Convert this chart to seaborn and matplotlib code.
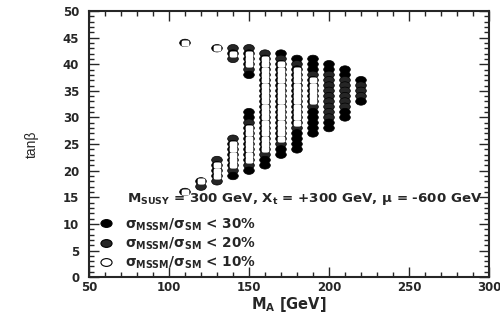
import numpy as np
import pandas as pd
import matplotlib
matplotlib.use("Agg")
import matplotlib.pyplot as plt
from matplotlib.path import Path
from matplotlib.transforms import Affine2D
from matplotlib.lines import Line2D
from matplotlib.ticker import MultipleLocator
import seaborn as sns

# ---- data: scan points (M_A, tan(beta) range) per category ----
# "< 10 %" (open ellipses)
open_ma  = [110, 110, 120, 130, 130, 140, 140, 150, 150, 160, 170, 180, 190]
open_lo  = [44,  16,  18,  43,  19,  42,  21,  40,  22,  24,  26,  29,  33]
open_hi  = [44,  16,  18,  43,  21,  42,  25,  42,  28,  41,  40,  39,  37]
# "< 20 %" (speckled ellipses)
mid_ma   = [120, 130, 130, 140, 140, 140, 140, 150, 150, 150, 150, 160, 160, 170, 170, 180, 180, 190, 190, 200, 210, 220]
mid_lo   = [17,  18,  22,  20,  26,  43,  41,  21,  29,  39,  43,  23,  42,  25,  41,  28,  40,  32,  38,  30,  32,  34]
mid_hi   = [17,  18,  22,  20,  26,  43,  41,  21,  29,  39,  43,  23,  42,  25,  41,  28,  40,  32,  38,  38,  37,  36]
# "< 30 %" (black ellipses)
full_ma  = [140, 150, 150, 150, 160, 170, 170, 180, 180, 190, 190, 200, 200, 210, 210, 220, 220]
full_lo  = [19,  20,  30,  38,  21,  23,  42,  24,  41,  27,  39,  28,  39,  30,  38,  33,  37]
full_hi  = [19,  20,  31,  38,  22,  24,  42,  27,  41,  31,  41,  29,  40,  31,  39,  33,  37]

categories = ["< 30%", "< 20%", "< 10%"]
x_ticks = [50, 100, 150, 200, 250, 300]
y_ticks = [0, 5, 10, 15, 20, 25, 30, 35, 40, 45, 50]


def expand(ma, lo, hi, cat):
    rows = []
    for m, a, b in zip(ma, lo, hi):
        for t in range(a, b + 1):
            rows.append((m, t, cat))
    return rows

rows = (expand(open_ma, open_lo, open_hi, categories[2])
        + expand(mid_ma, mid_lo, mid_hi, categories[1])
        + expand(full_ma, full_lo, full_hi, categories[0]))
df = pd.DataFrame(rows, columns=["MA", "tanb", "cat"])
df = df.sort_values(["MA", "tanb"], ascending=[True, False]).reset_index(drop=True)

# ---- style ----
sns.set_style("ticks")
plt.rcParams["font.family"] = ["DejaVu Sans"]
plt.rcParams["font.weight"] = "bold"
plt.rcParams["mathtext.fontset"] = "custom"
plt.rcParams["mathtext.rm"] = "DejaVu Sans:bold"
plt.rcParams["mathtext.it"] = "DejaVu Sans:bold"
plt.rcParams["mathtext.bf"] = "DejaVu Sans:bold"
plt.rcParams["mathtext.sf"] = "DejaVu Sans:bold"

circ = Path.unit_circle()
ellipse = Path(Affine2D().scale(1.0, 0.70).transform_path(circ).vertices, circ.codes)
# squarish interior shape so stacked open points merge into a white column
ang = np.linspace(0, 2 * np.pi, 121)
sx = np.sign(np.cos(ang)) * np.abs(np.cos(ang)) ** 0.5
sy = 0.80 * np.sign(np.sin(ang)) * np.abs(np.sin(ang)) ** 0.5
inner = Path(np.column_stack([sx, sy]), closed=True)

face = {categories[0]: "black", categories[1]: "#262626", categories[2]: "white"}
outline = {categories[0]: "black", categories[1]: "#262626", categories[2]: "black"}

fig = plt.figure(figsize=(5.0, 3.23), dpi=100)
ax = fig.add_axes([0.178, 0.142, 0.8, 0.824])

# outline layer: every scan point as a dark ellipse
sns.scatterplot(data=df, x="MA", y="tanb", hue="cat", palette=outline,
                marker=ellipse, s=59, edgecolor="black", linewidth=0.5,
                legend=False, ax=ax, zorder=3)
# white interiors of the "< 10 %" points
df_open = df[df["cat"] == categories[2]]
sns.scatterplot(data=df_open, x="MA", y="tanb", color="white",
                marker=inner, s=31, linewidth=0,
                legend=False, ax=ax, zorder=4)

ax.set_xlim(50, 300)
ax.set_ylim(0, 50)
ax.set_xticks(x_ticks)
ax.set_yticks(y_ticks)
ax.xaxis.set_minor_locator(MultipleLocator(10))
ax.yaxis.set_minor_locator(MultipleLocator(1))
ax.tick_params(which="both", direction="in", top=True, right=True, width=1.0)
ax.tick_params(which="major", length=7, labelsize=8.5)
ax.tick_params(which="minor", length=3.5)
ax.tick_params(axis="x", which="major", pad=2.5)
ax.tick_params(axis="y", which="major", pad=7)
for lab in ax.get_xticklabels() + ax.get_yticklabels():
    lab.set_fontweight("bold")
for sp in ax.spines.values():
    sp.set_linewidth(1.5)
    sp.set_visible(True)

ax.set_xlabel(r"$\mathrm{M_A}$ [GeV]", fontsize=10.5, fontweight="bold", labelpad=1)
ax.set_ylabel("tanβ", fontsize=10, labelpad=17, fontweight="normal",
              fontfamily=["Liberation Sans", "DejaVu Sans"])

ax.text(0.095, 0.295,
        r"$\mathrm{M_{SUSY}}$ = 300 GeV, $\mathrm{X_t}$ = +300 GeV, $\mu$ = -600 GeV",
        transform=ax.transAxes, fontsize=9.6, fontweight="bold", va="center")

handles = [Line2D([], [], ls="", marker=ellipse, markersize=8,
                  markerfacecolor=face[c], markeredgecolor="black",
                  markeredgewidth=0.8) for c in categories]
labels = [r"$\sigma_{\mathrm{MSSM}}/\sigma_{\mathrm{SM}}$ < " + c[2:] for c in categories]
leg = ax.legend(handles, labels, loc="upper left", bbox_to_anchor=(0.025, 0.229),
                frameon=False, handlelength=1.0, handletextpad=0.9,
                labelspacing=0.22, borderpad=0.0, borderaxespad=0.0,
                prop={"weight": "bold", "size": 9.8})

fig.savefig("out.png", dpi=100)
